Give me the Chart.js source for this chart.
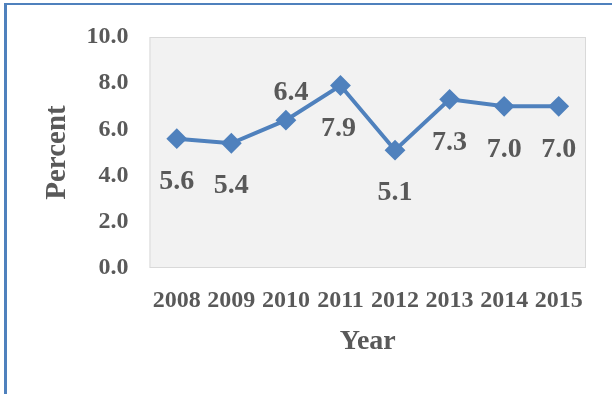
<!DOCTYPE html>
<html>
<head>
<meta charset="utf-8">
<script src="https://cdn.jsdelivr.net/npm/chart.js@4/dist/chart.umd.min.js"></script>
<style>
  html, body { margin: 0; padding: 0; background: #fff; }
  #wrap { position: relative; width: 612px; height: 394px; overflow: hidden; }
  #frame {
    position: absolute; left: 4px; top: 3px; right: -10px; bottom: -10px;
    border-top: 2px solid #4f81bd; border-left: 3px solid #4f81bd;
    pointer-events: none;
  }
</style>
</head>
<body>
<div id="wrap">
  <canvas id="chart" width="612" height="394"></canvas>
  <div id="frame"></div>
</div>
<script>
const years = ['2008', '2009', '2010', '2011', '2012', '2013', '2014', '2015'];
const percent = [5.6, 5.4, 6.4, 7.9, 5.1, 7.3, 7.0, 7.0];
const yTicks = [0, 2, 4, 6, 8, 10];

const textColor = '#595959';
const lineColor = '#4f81bd';
const serif = "'Liberation Serif', 'Times New Roman', serif";

// grey plot area with a thin border
const plotBackground = {
  id: 'plotBackground',
  beforeDraw(chart) {
    const { ctx, chartArea: a } = chart;
    ctx.save();
    ctx.fillStyle = '#f2f2f2';
    ctx.fillRect(a.left, a.top, a.right - a.left, a.bottom - a.top);
    ctx.strokeStyle = '#d9d9d9';
    ctx.lineWidth = 1;
    ctx.strokeRect(a.left + 0.5, a.top + 0.5, a.right - a.left - 1, a.bottom - a.top - 1);
    ctx.restore();
  }
};

// value labels next to each point
const valueLabels = {
  id: 'valueLabels',
  afterDatasetsDraw(chart, args, opts) {
    const { ctx } = chart;
    const meta = chart.getDatasetMeta(0);
    const values = chart.data.datasets[0].data;
    ctx.save();
    ctx.font = 'bold 28px ' + serif;
    ctx.fillStyle = textColor;
    ctx.textAlign = 'center';
    ctx.textBaseline = 'middle';
    meta.data.forEach((pt, i) => {
      const above = opts.above.includes(i);
      const dx = (opts.shiftX[i] || 0);
      const y = above ? pt.y - 27 : pt.y + 43;
      ctx.fillText(values[i].toFixed(1), pt.x + dx, y);
    });
    ctx.restore();
  }
};

new Chart(document.getElementById('chart'), {
  type: 'line',
  data: {
    labels: years,
    datasets: [{
      data: percent,
      borderColor: lineColor,
      backgroundColor: lineColor,
      borderWidth: 4,
      pointStyle: 'rectRot',
      pointRadius: 9,
      pointBorderWidth: 2,
      pointBackgroundColor: lineColor,
      pointBorderColor: lineColor,
      tension: 0
    }]
  },
  options: {
    responsive: false,
    animation: false,
    layout: { padding: { left: 0, right: 26, top: 37, bottom: 0 } },
    plugins: {
      legend: { display: false },
      tooltip: { enabled: false },
      valueLabels: { above: [2], shiftX: { 2: 5, 3: -2 } }
    },
    scales: {
      x: {
        offset: true,
        grid: { display: false, drawTicks: false },
        border: { display: false },
        ticks: {
          color: textColor,
          padding: 18,
          maxRotation: 0,
          autoSkip: false,
          font: { family: serif, size: 24, weight: 'bold' }
        },
        title: {
          display: true,
          text: 'Year',
          color: textColor,
          padding: { top: 0, bottom: 35 },
          font: { family: serif, size: 28, weight: 'bold' }
        },
        afterFit(scale) { scale.height = 126; }
      },
      y: {
        min: 0,
        max: 10,
        afterBuildTicks(scale) { scale.ticks = yTicks.map(v => ({ value: v })); },
        grid: { display: false, drawTicks: false },
        border: { display: false },
        ticks: {
          color: textColor,
          padding: 21,
          callback: v => Number(v).toFixed(1),
          font: { family: serif, size: 24, weight: 'bold' }
        },
        title: {
          display: true,
          text: 'Percent',
          color: textColor,
          padding: { top: 40, bottom: 0 },
          font: { family: serif, size: 29, weight: 'bold' }
        },
        afterFit(scale) { scale.width = 149.5; }
      }
    }
  },
  plugins: [plotBackground, valueLabels]
});
</script>
</body>
</html>
